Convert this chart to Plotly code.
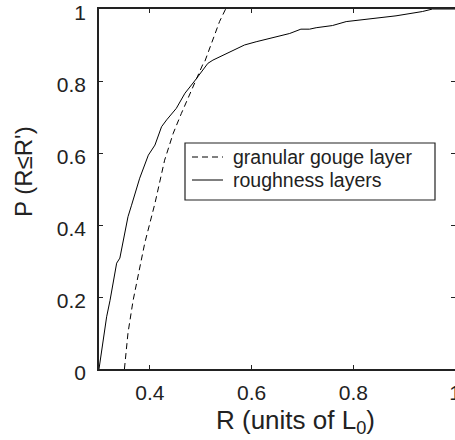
import plotly.graph_objects as go

# granular gouge layer (dashed)
gouge_r = [0.35, 0.357, 0.367, 0.377, 0.39, 0.40, 0.41, 0.429, 0.446, 0.462, 0.482, 0.492, 0.505, 0.508, 0.524, 0.537, 0.549]
gouge_p = [0.0, 0.1, 0.19, 0.256, 0.35, 0.405, 0.46, 0.58, 0.655, 0.71, 0.775, 0.81, 0.849, 0.854, 0.918, 0.965, 1.0]

# roughness layers (solid)
rough_r = [0.3, 0.315, 0.3216, 0.3347, 0.341, 0.351, 0.357, 0.364, 0.367, 0.38, 0.397, 0.41, 0.423, 0.433,
           0.452, 0.469, 0.488, 0.501, 0.514, 0.524, 0.544, 0.567, 0.586, 0.609, 0.648, 0.675, 0.697,
           0.714, 0.727, 0.759, 0.786, 0.831, 0.884, 0.936, 0.956, 1.0]
rough_p = [0.0, 0.145, 0.19, 0.294, 0.308, 0.386, 0.423, 0.455, 0.469, 0.53, 0.594, 0.622, 0.673, 0.692,
           0.724, 0.766, 0.8, 0.826, 0.849, 0.858, 0.872, 0.886, 0.90, 0.909, 0.923, 0.932, 0.944,
           0.944, 0.948, 0.954, 0.965, 0.972, 0.981, 0.993, 1.0, 1.0]

series_names = ["granular gouge layer", "roughness layers"]

x_ticks = [0.4, 0.6, 0.8, 1.0]
x_ticktext = ["0.4", "0.6", "0.8", "1"]
y_ticks = [0, 0.2, 0.4, 0.6, 0.8, 1.0]
y_ticktext = ["0", "0.2", "0.4", "0.6", "0.8", "1"]

FONT = "Liberation Sans, Arial, Helvetica, sans-serif"
INK = "#222"
DASH = "6px,4px"

# plot-area geometry in page pixels
L, R_, T, B = 99, 455, 9, 369
W, H = 455, 440


def px(xp):
    return (xp - L) / (R_ - L)


def py(yp):
    return (B - yp) / (B - T)


fig = go.Figure()
fig.add_trace(go.Scatter(x=gouge_r, y=gouge_p, mode="lines", name=series_names[0],
                         line=dict(color="black", width=1, dash=DASH), showlegend=False))
fig.add_trace(go.Scatter(x=rough_r, y=rough_p, mode="lines", name=series_names[1],
                         line=dict(color="black", width=1), showlegend=False))

axis_common = dict(showgrid=False, zeroline=False, showline=True, linecolor=INK, linewidth=1.5,
                   ticks="inside", ticklen=4, tickcolor=INK, mirror="ticks",
                   ticklabeloverflow="allow", automargin=False,
                   tickfont=dict(family=FONT, size=21, color=INK))

fig.update_xaxes(range=[0.3, 1.0], tickvals=x_ticks, ticktext=x_ticktext, ticklabelstandoff=4, **axis_common)
fig.update_yaxes(range=[0, 1.0], tickvals=y_ticks, ticktext=y_ticktext, ticklabelstandoff=7,
                 ticklabelshift=4, **axis_common)

# axis titles
fig.add_annotation(text="R (units of L<sub>0</sub>)", xref="paper", yref="paper",
                   x=px(295), y=py(421), xanchor="center", yanchor="middle",
                   showarrow=False, font=dict(family=FONT, size=26, color=INK))
fig.add_annotation(text="P (R≤R')", xref="paper", yref="paper",
                   x=px(24), y=py(172), xanchor="center", yanchor="middle",
                   textangle=-90, showarrow=False, font=dict(family=FONT, size=24, color=INK))

# legend box (drawn in paper coordinates)
fig.add_shape(type="rect", xref="paper", yref="paper",
              x0=px(185), x1=px(435), y0=py(200), y1=py(143),
              line=dict(color=INK, width=1.2), fillcolor="white", layer="above")
legend_rows = [(157, DASH), (180, "solid")]
for (row_y, dash), name in zip(legend_rows, series_names):
    fig.add_shape(type="line", xref="paper", yref="paper",
                  x0=px(192), x1=px(223), y0=py(row_y), y1=py(row_y),
                  line=dict(color="black", width=1, dash=dash), layer="above")
    fig.add_annotation(text=name, xref="paper", yref="paper",
                       x=px(231), y=py(row_y), xanchor="left", yanchor="middle",
                       showarrow=False, font=dict(family=FONT, size=19.5, color=INK))

fig.update_layout(
    width=W, height=H,
    margin=dict(l=L, r=W - R_, t=T, b=H - B, autoexpand=False),
    plot_bgcolor="white", paper_bgcolor="white",
    showlegend=False,
)

fig.write_html("out.html", config={"displayModeBar": False},
               post_script="document.body.style.margin='0';")
